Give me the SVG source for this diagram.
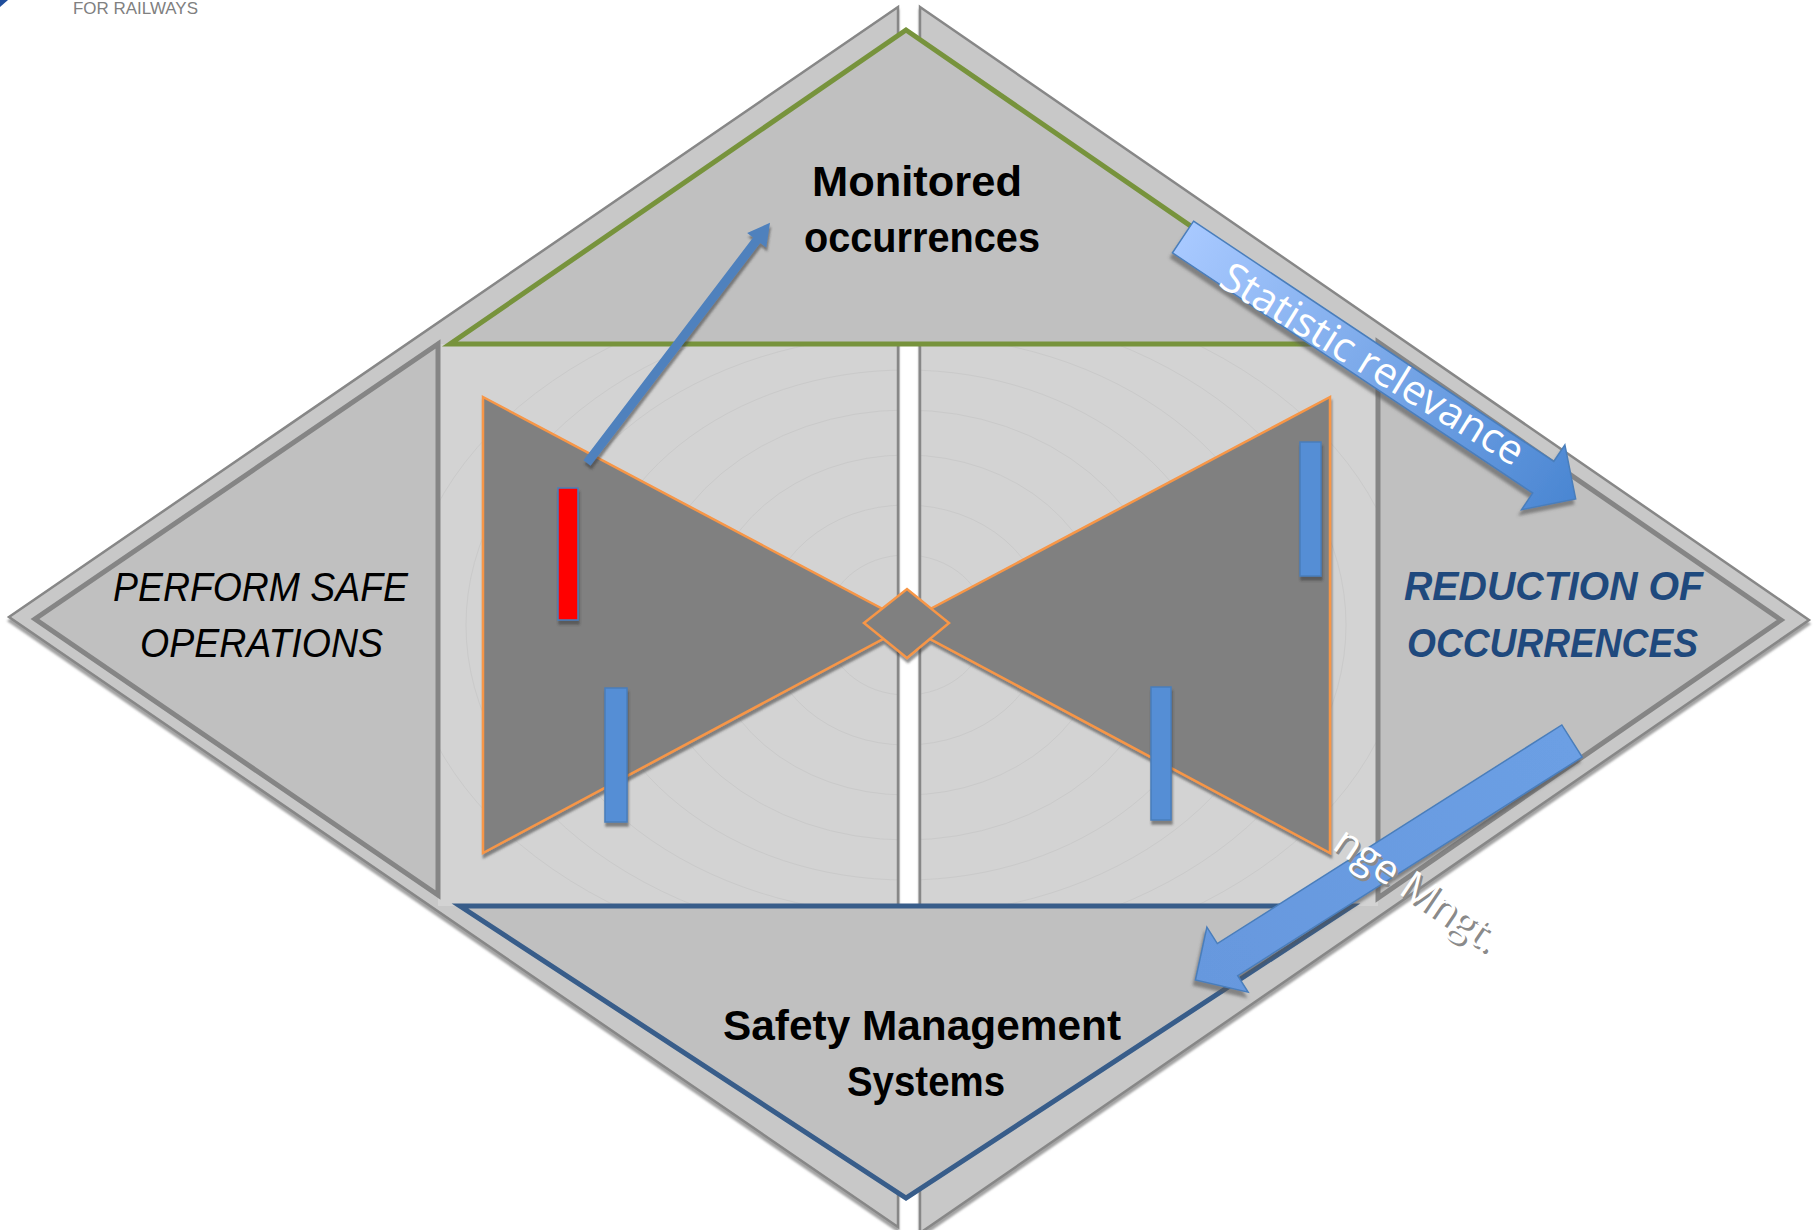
<svg xmlns="http://www.w3.org/2000/svg" width="1816" height="1230" viewBox="0 0 1816 1230">
<style>
.panel{fill:#C8C8C8;stroke:#878787;stroke-width:2.5;stroke-linejoin:miter}
.tri{fill:#C0C0C0;stroke:#858585;stroke-width:5;stroke-linejoin:miter}
.bow{fill:#808080;stroke:#F79646;stroke-width:2.5;stroke-linejoin:miter}
.bar{fill:#558ED5;stroke:#4A7EBB;stroke-width:1.5}
.contour{fill:none;stroke:#CACACA;stroke-width:1}
.lbl{font-family:"Liberation Sans",Arial,sans-serif;font-size:42px;font-weight:bold;fill:#000}
.ital{font-family:"Liberation Sans",Arial,sans-serif;font-size:40px;font-style:italic;fill:#000}
.red{font-family:"Liberation Sans",Arial,sans-serif;font-size:40px;font-style:italic;font-weight:bold;fill:#1F497D}
.arrtxt{font-family:"Open Sans","DejaVu Sans",sans-serif;font-size:41px;fill:#FFFFFF}
</style>
<defs>
<filter id="sh" x="-20%" y="-20%" width="140%" height="140%">
<feDropShadow dx="1" dy="4" stdDeviation="1.2" flood-color="#3A3A3A" flood-opacity="0.55"/>
</filter>
<filter id="shp" x="-5%" y="-5%" width="110%" height="110%">
<feDropShadow dx="0" dy="4" stdDeviation="1" flood-color="#8A8A8A" flood-opacity="0.8"/>
</filter>
<filter id="sha" x="-10%" y="-30%" width="120%" height="160%">
<feDropShadow dx="-2" dy="5" stdDeviation="1.5" flood-color="#555555" flood-opacity="0.6"/>
</filter>
<linearGradient id="gStat" gradientUnits="userSpaceOnUse" x1="0" y1="0" x2="472" y2="0">
<stop offset="0" stop-color="#A8C9FF"/>
<stop offset="1" stop-color="#4A86D2"/>
</linearGradient>
<linearGradient id="gChg" gradientUnits="userSpaceOnUse" x1="0" y1="0" x2="446" y2="0">
<stop offset="0" stop-color="#6C9FE4"/>
<stop offset="1" stop-color="#6698DE"/>
</linearGradient>
<clipPath id="cL"><rect x="438" y="344" width="459" height="562"/></clipPath>
<clipPath id="cR"><rect x="921" y="344" width="457" height="562"/></clipPath>
</defs>

<g id="header">
<polygon points="0,0 8,0 0,7" fill="#1F4E9C"/>
<text x="73" y="14" font-family="Liberation Sans, Arial, sans-serif" font-size="17" fill="#808080" textLength="125" lengthAdjust="spacingAndGlyphs">FOR RAILWAYS</text>
</g>

<g id="panels" filter="url(#shp)">
<path class="panel" d="M898,7 L9,617 L898,1227 Z"/>
<path class="panel" d="M920,7 L1809,620 L920,1233 Z"/>
</g>

<g id="center-field">
<rect x="438" y="344" width="459" height="562" fill="#D3D3D3"/>
<rect x="921" y="344" width="457" height="562" fill="#D3D3D3"/>
<g clip-path="url(#cL)">
<ellipse class="contour" cx="906" cy="625" rx="80" ry="70"/>
<ellipse class="contour" cx="906" cy="625" rx="140" ry="120"/>
<ellipse class="contour" cx="906" cy="625" rx="200" ry="170"/>
<ellipse class="contour" cx="906" cy="625" rx="260" ry="215"/>
<ellipse class="contour" cx="906" cy="625" rx="320" ry="255"/>
<ellipse class="contour" cx="906" cy="625" rx="380" ry="290"/>
<ellipse class="contour" cx="906" cy="625" rx="440" ry="320"/>
<ellipse class="contour" cx="906" cy="625" rx="500" ry="345"/>
</g>
<g clip-path="url(#cR)">
<ellipse class="contour" cx="906" cy="625" rx="80" ry="70"/>
<ellipse class="contour" cx="906" cy="625" rx="140" ry="120"/>
<ellipse class="contour" cx="906" cy="625" rx="200" ry="170"/>
<ellipse class="contour" cx="906" cy="625" rx="260" ry="215"/>
<ellipse class="contour" cx="906" cy="625" rx="320" ry="255"/>
<ellipse class="contour" cx="906" cy="625" rx="380" ry="290"/>
<ellipse class="contour" cx="906" cy="625" rx="440" ry="320"/>
<ellipse class="contour" cx="906" cy="625" rx="500" ry="345"/>
</g>
<line x1="898" y1="340" x2="898" y2="910" stroke="#878787" stroke-width="2.5"/>
<line x1="920" y1="340" x2="920" y2="910" stroke="#878787" stroke-width="2.5"/>
</g>

<g id="monitored">
<path d="M906,30 L1362,344 L450,344 Z" fill="#C0C0C0" stroke="#77933C" stroke-width="5" stroke-linejoin="miter"/>
<text class="lbl" x="812" y="196" textLength="210" lengthAdjust="spacingAndGlyphs">Monitored</text>
<text class="lbl" x="804" y="252" textLength="236" lengthAdjust="spacingAndGlyphs">occurrences</text>
</g>

<g id="sms">
<path d="M460,906 L1352,906 L906,1198 Z" fill="#C0C0C0" stroke="#385D8A" stroke-width="5" stroke-linejoin="miter"/>
<text class="lbl" x="723" y="1040" font-size="41" textLength="398" lengthAdjust="spacingAndGlyphs">Safety Management</text>
<text class="lbl" x="847" y="1096" font-size="41" textLength="158" lengthAdjust="spacingAndGlyphs">Systems</text>
</g>

<g id="perform">
<path class="tri" d="M438,344 L438,895 L35,619 Z"/>
<text class="ital" x="113" y="601" textLength="295" lengthAdjust="spacingAndGlyphs">PERFORM SAFE</text>
<text class="ital" x="140" y="657" textLength="243" lengthAdjust="spacingAndGlyphs">OPERATIONS</text>
</g>

<g id="reduction">
<path class="tri" d="M1378,342 L1781,620 L1378,898 Z"/>
<text class="red" x="1404" y="600" textLength="299" lengthAdjust="spacingAndGlyphs">REDUCTION OF</text>
<text class="red" x="1407" y="657" textLength="291" lengthAdjust="spacingAndGlyphs">OCCURRENCES</text>
</g>

<g id="connectors">
<g id="change-arrow" filter="url(#sha)">
<path transform="translate(1572,741) rotate(147.6)" d="M0,-19 L408,-19 L408,-38.5 L446,0 L408,38.5 L408,19 L0,19 Z" fill="url(#gChg)" stroke="#4A7EBB" stroke-width="1.5"/>
</g>
<g id="change-label">
<text class="arrtxt" transform="translate(1333,851) rotate(34)" style="fill:#8A8A8A" textLength="188" lengthAdjust="spacingAndGlyphs">nge Mngt.</text>
<text class="arrtxt" transform="translate(1331,848) rotate(34)" textLength="188" lengthAdjust="spacingAndGlyphs">nge Mngt.</text>
</g>
<g id="statistic-arrow" filter="url(#sha)">
<path transform="translate(1183,237) rotate(33.7)" d="M0,-19 L433,-19 L433,-39 L472,0 L433,39 L433,19 L0,19 Z" fill="url(#gStat)" stroke="#4A7EBB" stroke-width="1.5"/>
</g>
<text class="arrtxt" transform="translate(1217,285) rotate(31.5)" textLength="348" lengthAdjust="spacingAndGlyphs">Statistic relevance</text>
</g>

<g id="bowtie" filter="url(#sh)">
<path class="bow" d="M483,397 L911,624 L483,853 Z"/>
<path class="bow" d="M1330,397 L902,624 L1330,853 Z"/>
<path class="bow" d="M864,623 L907,589 L949,623 L907,658 Z"/>
</g>

<g id="barriers" filter="url(#sh)">
<rect x="558" y="488" width="20" height="132" fill="#FF0000" stroke="#4A7EBB" stroke-width="1.5"/>
<rect class="bar" x="605" y="688" width="22" height="134"/>
<rect class="bar" x="1300" y="442" width="21" height="134"/>
<rect class="bar" x="1151" y="687" width="20" height="133"/>
</g>

<g id="escalation-arrow" filter="url(#sh)">
<path transform="translate(587,463) rotate(-52.7)" d="M0,-4.5 L280,-4.5 L280,-12 L302,0 L280,12 L280,4.5 L0,4.5 Z" fill="#4F81BD"/>
</g>
</svg>
